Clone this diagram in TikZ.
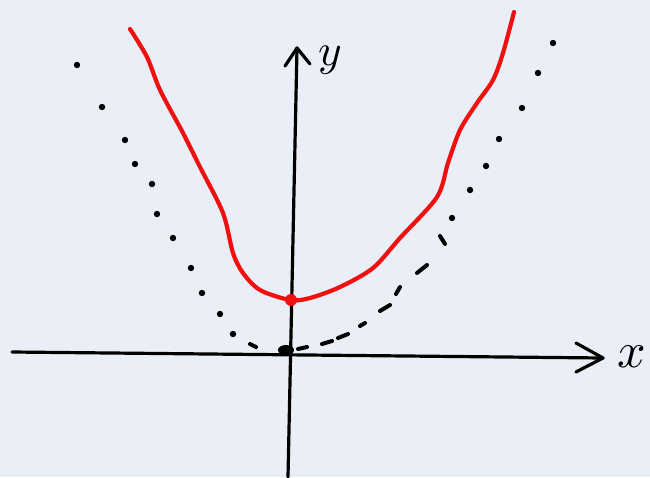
\documentclass[tikz,border=0pt]{standalone}
\usepackage{tikz}
\usepackage{graphicx}
\usetikzlibrary{arrows.meta,calc}
\definecolor{bgcol}{HTML}{EAEEF6}
\definecolor{curvered}{HTML}{F01010}

\begin{document}
\begin{tikzpicture}[
    x=1pt,y=-1pt,
    axis/.style={line width=3.2pt,line cap=round,line join=round},
    tip/.style={line width=3.2pt,line cap=round,line join=round},
    redcurve/.style={curvered,line width=4.2pt,line cap=round,line join=round},
    dotmark/.style={fill=black,draw=none},
    dashmark/.style={line width=4pt,line cap=round},
    lbl/.style={inner sep=0pt}
]
% background and size
\fill[bgcol] (0,0) rectangle (650,477);
\useasboundingbox (0,0) rectangle (650,477);

% axes
\coordinate (xstart) at (12,352);
\coordinate (xend)   at (603,358);
\coordinate (ystart) at (288,477);
\coordinate (yend)   at (297,48);
\draw[axis] (xstart) -- (xend);
\draw[axis] (ystart) -- (yend);
\draw[tip] (576,343) -- (xend) -- (576,372);
\draw[tip] (285,66) -- (yend) -- (310,64);
\node[lbl] (ylabel) at (330,60) {\scalebox{4.5}{$y$}};
\node[lbl] (xlabel) at (632,357) {\scalebox{5}{$x$}};

% dotted parabola, left branch
\foreach \p in {(77,65),(102,107),(125,140),(135,164),(152,184),(157,214),
                (173,238),(191,268),(202,293),(220,314),(233,334)}
  \fill[dotmark] \p circle (3.2);
\draw[dashmark] (250,344) -- (256,347);

% dotted parabola, right branch
\foreach \p in {(553,43),(538,73),(522,108),(499,139),(486,166),(470,190),(452,218)}
  \fill[dotmark] \p circle (3.2);
\draw[dashmark] (440,236) -- (445,244);
\draw[dashmark] (417,273) -- (427,265);
\draw[dashmark] (396,294) -- (400,287);
\draw[dashmark] (380,311) -- (390,305);
\draw[dashmark] (360,326) -- (365,323);
\draw[dashmark] (338,338) -- (348,334);
\draw[dashmark] (322,344) -- (332,341);
\draw[dashmark] (298,349) -- (307,347);

% vertex of dotted parabola
\fill[dotmark] (286,350) ellipse (8 and 5);

% red parabola
\draw[redcurve] plot[smooth,tension=0.5] coordinates {
  (130,29) (147,57) (160,90) (183,133) (200,167) (223,213) (233,253)
  (243,273) (260,290) (290,300) (310,298) (340,287) (373,268) (400,238)
  (437,197) (448,163) (460,130) (477,103) (493,80) (503,53) (514,12)};
\fill[curvered] (291,300) circle (6);
\end{tikzpicture}
\end{document}
